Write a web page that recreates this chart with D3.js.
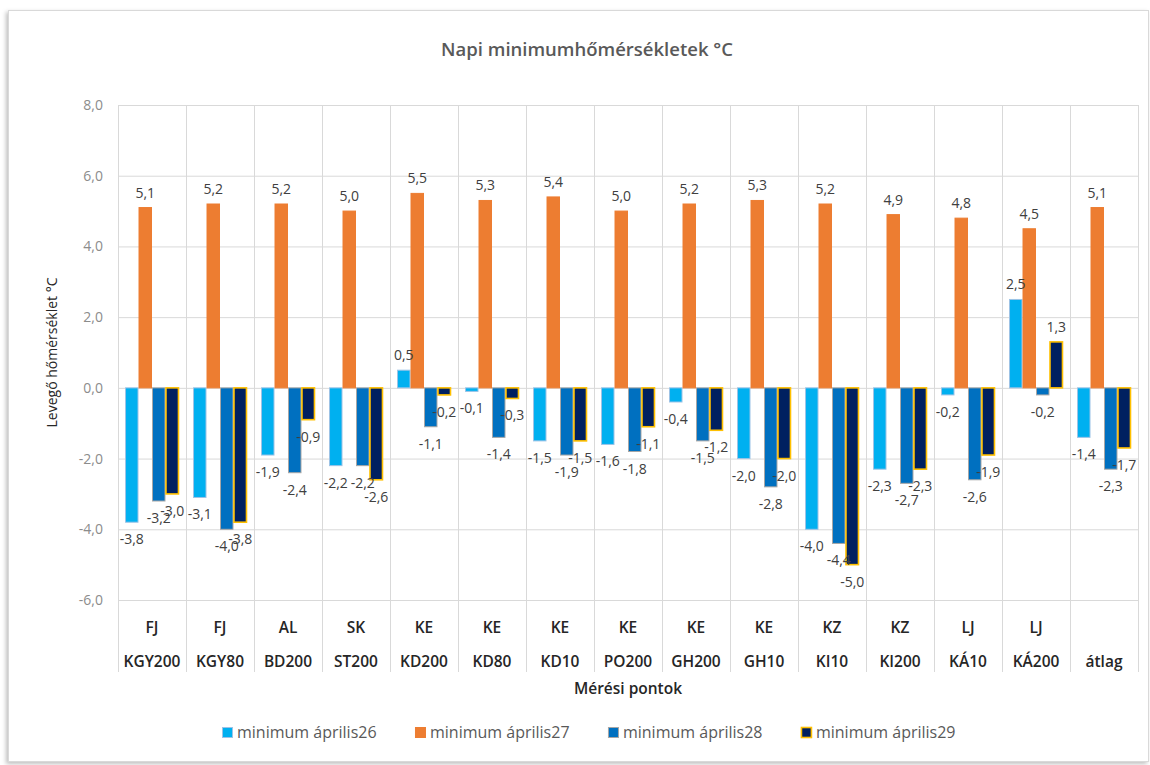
<!DOCTYPE html>
<html><head><meta charset="utf-8">
<script src="https://cdn.jsdelivr.net/npm/d3@7"></script>
<style>
body{margin:0;background:#fff;}
svg{display:block;font-family:"Open Sans",sans-serif;}
</style></head>
<body><svg id="c" width="1150" height="765"></svg>
<script>
const categoriesTop = ["FJ","FJ","AL","SK","KE","KE","KE","KE","KE","KE","KZ","KZ","LJ","LJ",""];
const categoriesBottom = ["KGY200","KGY80","BD200","ST200","KD200","KD80","KD10","PO200","GH200","GH10","KI10","KI200","KÁ10","KÁ200","átlag"];
const seriesNames = ["minimum április26","minimum április27","minimum április28","minimum április29"];
const apr26 = [-3.8,-3.1,-1.9,-2.2,0.5,-0.1,-1.5,-1.6,-0.4,-2.0,-4.0,-2.3,-0.2,2.5,-1.4];
const apr27 = [5.1,5.2,5.2,5.0,5.5,5.3,5.4,5.0,5.2,5.3,5.2,4.9,4.8,4.5,5.1];
const apr28 = [-3.2,-4.0,-2.4,-2.2,-1.1,-1.4,-1.9,-1.8,-1.5,-2.8,-4.4,-2.7,-2.6,-0.2,-2.3];
const apr29 = [-3.0,-3.8,-0.9,-2.6,-0.2,-0.3,-1.5,-1.1,-1.2,-2.0,-5.0,-2.3,-1.9,1.3,-1.7];
const yTicks = [-6,-4,-2,0,2,4,6,8];
const titleText = "Napi minimumhőmérsékletek °C";
const yTitle = "Levegő hőmérséklet  °C";
const xTitle = "Mérési pontok";

(function(){
const seriesData = [apr26, apr27, apr28, apr29];
const fills = ["#00B0F0","#ED7D31","#0070C0","#002060"];
const strokes = ["#9DC3E6","#ED7D31","#A6A6A6","#FFC000"];

const svg = d3.select("#c");
const huLocale = d3.formatLocale({decimal:",", thousands:" ", grouping:[3], currency:["","Ft"], minus:"-"});
const fmt = huLocale.format(".1f");

const defs = svg.append("defs");
const f = defs.append("filter").attr("id","sh").attr("x","-5%").attr("y","-5%").attr("width","110%").attr("height","110%");
f.append("feDropShadow").attr("dx",-2).attr("dy",2).attr("stdDeviation",2).attr("flood-color","#000").attr("flood-opacity",0.25);
svg.append("rect").attr("x",8.5).attr("y",10.5).attr("width",1140).attr("height",751)
  .attr("fill","#fff").attr("stroke","#d9d9d9").attr("filter","url(#sh)");

const pLeft = 118, pRight = 1138, pTop = 105, pBottom = 600, catBottom = 672;
const x = d3.scaleBand().domain(d3.range(categoriesBottom.length)).range([pLeft,pRight]).paddingInner(0).paddingOuter(0);
const xs = d3.scaleBand().domain(d3.range(4)).range([0,x.bandwidth()]).paddingInner(0).paddingOuter(0.52);
const y = d3.scaleLinear().domain([-6,8]).range([pBottom,pTop]);

const yAxis = svg.append("g").attr("transform",`translate(${pLeft},0)`)
  .call(d3.axisLeft(y).tickValues(yTicks).tickSize(-(pRight-pLeft)).tickPadding(15).tickFormat(fmt));
yAxis.select(".domain").remove();
yAxis.selectAll(".tick line").attr("stroke","#d9d9d9").attr("stroke-width",1);
yAxis.selectAll(".tick text").attr("fill","#8c8c8c").style("font-size","14px").style("font-family","Open Sans");

const bounds = d3.range(categoriesBottom.length+1).map(i => i < categoriesBottom.length ? x(i) : pRight);
svg.append("g").selectAll("line").data(bounds).join("line")
  .attr("x1",d=>d+0.5).attr("x2",d=>d+0.5).attr("y1",pTop).attr("y2",catBottom)
  .attr("stroke","#d9d9d9");

const g = svg.append("g");
seriesData.forEach((arr,s) => {
  g.append("g").selectAll("rect").data(arr).join("rect")
    .attr("x",(d,i)=>x(i)+xs(s)+0.5)
    .attr("width",xs.bandwidth()-1)
    .attr("y",d=>y(Math.max(0,d)))
    .attr("height",d=>Math.abs(y(d)-y(0)))
    .attr("fill",fills[s]).attr("stroke",strokes[s]).attr("stroke-width",s===3?1.6:1);
});
seriesData.forEach((arr,s) => {
  g.append("g").selectAll("text").data(arr).join("text")
    .attr("x",(d,i)=>x(i)+xs(s)+xs.bandwidth()/2)
    .attr("y",d=> d>=0 ? y(d)-10 : y(d)+22)
    .attr("text-anchor","middle").attr("fill","#404040").style("font-size","14px")
    .text(d=>fmt(d));
});

svg.append("g").selectAll("text").data(categoriesTop).join("text")
  .attr("x",(d,i)=>x(i)+x.bandwidth()/2).attr("y",633).attr("text-anchor","middle")
  .attr("fill","#262626").style("font-size","15.5px").style("font-weight","600").text(d=>d);
svg.append("g").selectAll("text").data(categoriesBottom).join("text")
  .attr("x",(d,i)=>x(i)+x.bandwidth()/2).attr("y",667).attr("text-anchor","middle")
  .attr("fill","#262626").style("font-size","15.5px").style("font-weight","600").text(d=>d);

svg.append("text").attr("x",587).attr("y",56).attr("text-anchor","middle")
  .attr("fill","#595959").style("font-size","18.5px").style("font-weight","600").text(titleText);
svg.append("text").attr("x",(pLeft+pRight)/2).attr("y",694).attr("text-anchor","middle")
  .attr("fill","#262626").style("font-size","15.5px").style("font-weight","600").text(xTitle);
svg.append("text").attr("transform",`translate(57,${(pTop+pBottom)/2}) rotate(-90)`).attr("text-anchor","middle")
  .attr("fill","#262626").style("font-size","14px").text(yTitle);

const leg = svg.append("g");
const items = leg.selectAll("g").data(seriesNames).join("g");
items.append("rect").attr("x",0.5).attr("width",10).attr("height",10).attr("y",-10.5)
  .attr("fill",(d,i)=>fills[i]).attr("stroke",(d,i)=>strokes[i]).attr("stroke-width",(d,i)=>i===3?1.6:1);
items.append("text").attr("x",15).attr("y",0).attr("fill","#595959").style("font-size","16px").text(d=>d);
const legStart = 222, legEnd = 955;
const widths = []; items.each(function(){ widths.push(this.getBBox().width); });
const gap = (legEnd - legStart - d3.sum(widths)) / (widths.length - 1);
let cx = legStart; const pos = [];
widths.forEach(w => { pos.push(cx); cx += w + gap; });
items.attr("transform",(d,i)=>`translate(${pos[i]},738)`);
})();
</script></body></html>
